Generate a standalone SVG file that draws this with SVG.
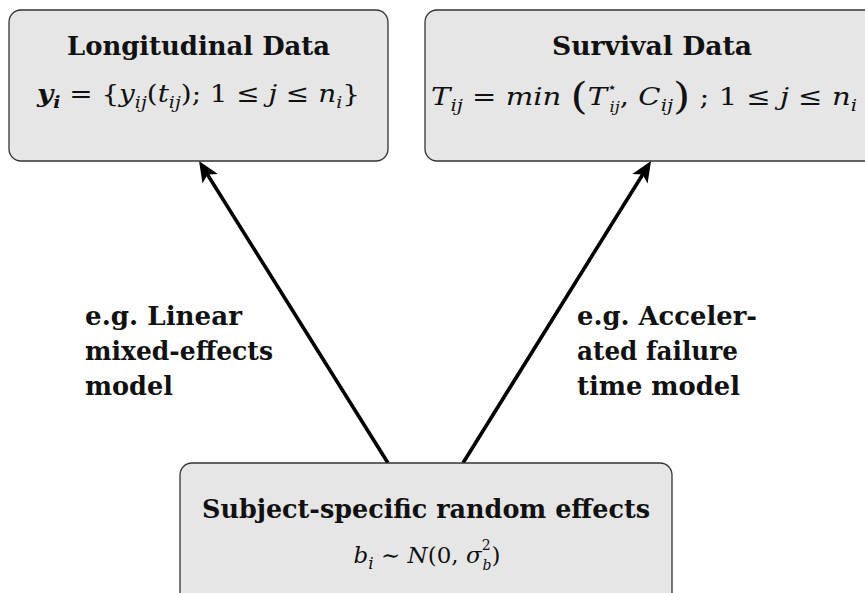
<svg xmlns="http://www.w3.org/2000/svg" width="865" height="593" viewBox="0 0 865 593">
<style>
.box{fill:#e6e6e6;stroke:#333;stroke-width:1.3}
.t{font-family:"DejaVu Serif","Liberation Serif",serif;font-weight:bold;font-size:26px;fill:#111}
.m{font-family:"DejaVu Serif","Liberation Serif",serif;font-size:25px;fill:#111}
.i{font-style:italic}
.s{font-size:17px}
.ss{font-size:14px}
.c{stroke:#000;stroke-width:3.6;fill:none}
</style>
<defs>
<marker id="ah" markerUnits="userSpaceOnUse" viewBox="-12 -10 26 20" markerWidth="26" markerHeight="20" refX="0" refY="0" orient="auto">
<path d="M12,0 L-9,-9 L-4,0 L-9,9 Z" fill="#000"/>
</marker>
</defs>
<rect width="865" height="593" fill="#fff"/>
<g id="connectors">
<line class="c" x1="388" y1="463" x2="205.4" y2="171.2" marker-end="url(#ah)"/>
<line class="c" x1="463" y1="463" x2="644.7" y2="171.2" marker-end="url(#ah)"/>
<text class="t" x="85" y="325" textLength="157" lengthAdjust="spacingAndGlyphs">e.g. Linear</text>
<text class="t" x="85" y="360" textLength="188" lengthAdjust="spacingAndGlyphs">mixed-effects</text>
<text class="t" x="85" y="395" textLength="88" lengthAdjust="spacingAndGlyphs">model</text>
<text class="t" x="577" y="325" textLength="180" lengthAdjust="spacingAndGlyphs">e.g. Acceler-</text>
<text class="t" x="577" y="360" textLength="161" lengthAdjust="spacingAndGlyphs">ated failure</text>
<text class="t" x="577" y="395" textLength="163" lengthAdjust="spacingAndGlyphs">time model</text>
</g>
<g id="longitudinal">
<rect class="box" x="9" y="10" width="379" height="151" rx="12"/>
<text class="t" x="198.5" y="55" text-anchor="middle" textLength="263" lengthAdjust="spacingAndGlyphs">Longitudinal Data</text>
<text class="m" x="198.5" y="102" text-anchor="middle" textLength="323" lengthAdjust="spacingAndGlyphs"><tspan class="i" font-weight="bold">y</tspan><tspan class="i s" font-weight="bold" dy="6">i</tspan><tspan dy="-6"> = {</tspan><tspan class="i">y</tspan><tspan class="i s" dy="6">ij</tspan><tspan dy="-6">(</tspan><tspan class="i">t</tspan><tspan class="i s" dy="6">ij</tspan><tspan dy="-6">); 1 ≤ </tspan><tspan class="i">j</tspan><tspan> ≤ </tspan><tspan class="i">n</tspan><tspan class="i s" dy="6">i</tspan><tspan dy="-6">}</tspan></text>
</g>
<g id="survival">
<rect class="box" x="425" y="10" width="454" height="151" rx="12"/>
<text class="t" x="652" y="55" text-anchor="middle" textLength="200" lengthAdjust="spacingAndGlyphs">Survival Data</text>
<text class="m" x="644" y="105" text-anchor="middle" textLength="426" lengthAdjust="spacingAndGlyphs"><tspan class="i">T</tspan><tspan class="i s" dy="6">ij</tspan><tspan dy="-6"> = </tspan><tspan class="i">min </tspan><tspan font-size="38" dy="4">(</tspan><tspan class="i" dy="-4">T</tspan><tspan class="ss" dy="-13">⋆</tspan><tspan class="i ss" dx="-7" dy="20">ij</tspan><tspan dy="-7">, </tspan><tspan class="i">C</tspan><tspan class="i s" dy="6">ij</tspan><tspan font-size="38" dy="-2">)</tspan><tspan dy="-4"> ; 1 ≤ </tspan><tspan class="i">j</tspan><tspan> ≤ </tspan><tspan class="i">n</tspan><tspan class="i s" dy="6">i</tspan></text>
</g>
<g id="random-effects">
<rect class="box" x="180" y="463" width="492" height="150" rx="12"/>
<text class="t" x="426" y="518" text-anchor="middle" textLength="448" lengthAdjust="spacingAndGlyphs">Subject-specific random effects</text>
<text class="m" x="427" y="563" text-anchor="middle" style="font-size:23px"><tspan class="i">b</tspan><tspan class="i s" dy="6">i</tspan><tspan dy="-6"> ∼ </tspan><tspan class="i">N</tspan><tspan>(0, </tspan><tspan class="i">σ</tspan><tspan class="ss" dy="-13">2</tspan><tspan class="i ss" dx="-8" dy="20">b</tspan><tspan dy="-7">)</tspan></text>
</g>
</svg>
